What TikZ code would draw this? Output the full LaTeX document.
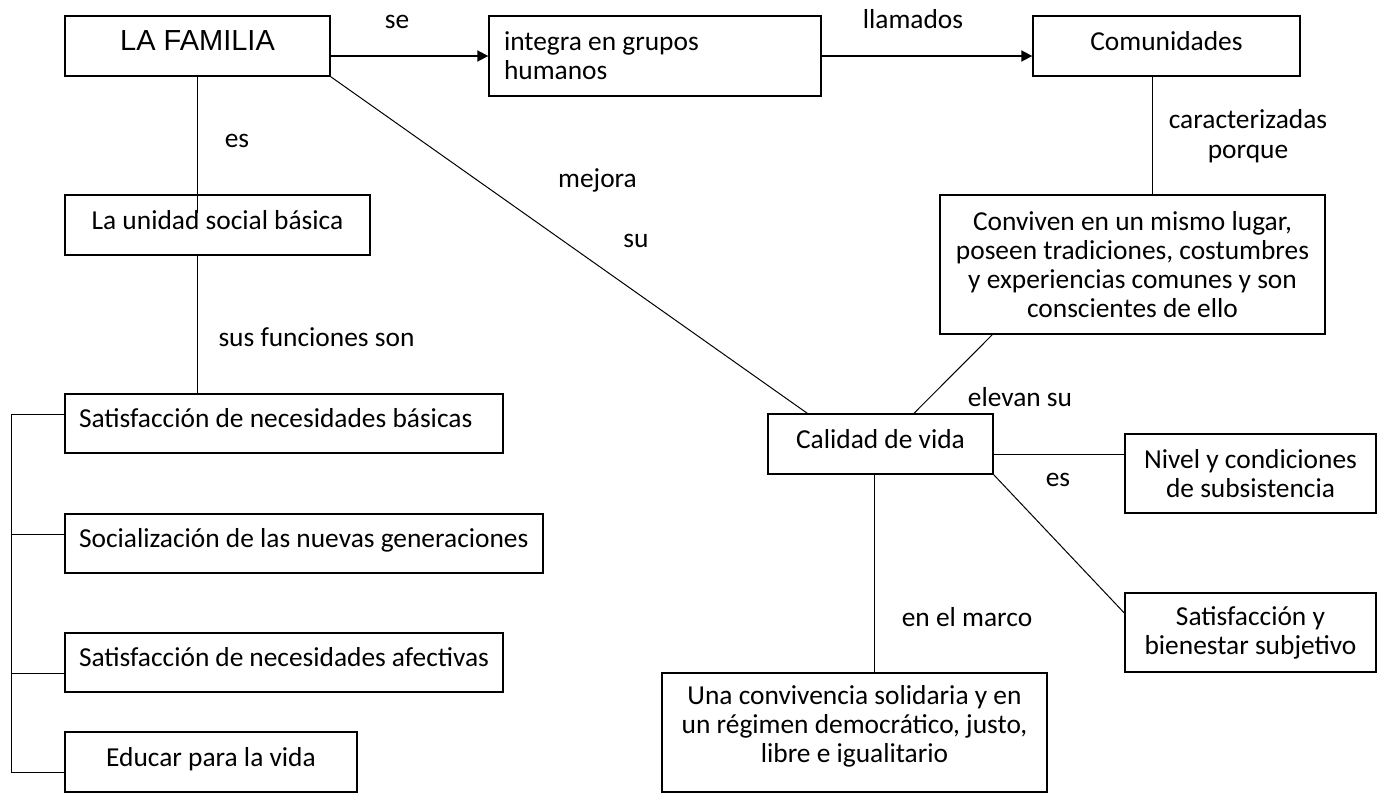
\documentclass[tikz,border=0pt]{standalone}
\usepackage{fontspec}
\setmainfont{Carlito}
\newfontfamily\titlefont{Liberation Sans}
\usetikzlibrary{arrows.meta}

\begin{document}
\begin{tikzpicture}[
    x=0.5pt, y=-0.5pt,
    concept/.style={draw,line width=0.7pt,inner sep=0pt,align=center},
    oneline/.style={text height=9.5pt,text depth=5.5pt},
    word/.style={anchor=base,inner sep=0pt},
    link/.style={line width=0.5pt},
    arrow/.style={line width=0.9pt,-{Triangle[length=5.5pt,width=5.5pt]}},
    font=\fontsize{13.7}{14.5}\selectfont
    ]

    \useasboundingbox (0,0) rectangle (1378,793);

    % top row:
    \node (familia) at (197.5,46) [concept,oneline,minimum width=132.5pt,minimum height=30pt,
      font=\titlefont\fontsize{14.5}{16}\selectfont] {LA FAMILIA};
    \node (integra) at (655,56) [concept,minimum height=40pt,text width=151pt,
      inner xsep=7.5pt,align=flush left] {integra en grupos\\humanos};
    \node (comunidades) at (1166.5,46) [concept,oneline,minimum width=133.5pt,minimum height=30pt] {Comunidades};
    \node (conviven) at (1132.5,264.5) [concept,minimum width=192.5pt,minimum height=69.5pt]
      {Conviven en un mismo lugar,\\poseen tradiciones, costumbres\\y experiencias comunes y son\\conscientes de ello};

    % left column:
    \node (unidad) at (217.5,225) [concept,oneline,minimum width=152.5pt,minimum height=30pt] {La unidad social básica};
    \node (basicas) at (284,423.5) [concept,oneline,minimum height=29.5pt,text width=205pt,
      inner xsep=7pt,align=flush left] {Satisfacción de necesidades básicas};
    \node (socializacion) at (304,543.5) [concept,oneline,minimum height=29.5pt,text width=225pt,
      inner xsep=7pt,align=flush left] {Socialización de las nuevas generaciones};
    \node (afectivas) at (284,662.5) [concept,oneline,minimum height=29.5pt,text width=205pt,
      inner xsep=7pt,align=flush left] {Satisfacción de necesidades afectivas};
    \node (educar) at (211,762) [concept,oneline,minimum width=146pt,minimum height=30pt] {Educar para la vida};

    % right part:
    \node (calidad) at (880.5,444) [concept,oneline,minimum width=112.5pt,minimum height=30pt] {Calidad de vida};
    \node (nivel) at (1250.5,473.5) [concept,minimum width=125.5pt,minimum height=39.5pt]
      {Nivel y condiciones\\de subsistencia};
    \node (bienestar) at (1250.5,632.5) [concept,minimum width=125.5pt,minimum height=39.5pt]
      {Satisfacción y\\bienestar subjetivo};
    \node (una) at (854.5,732.5) [concept,minimum width=192.5pt,minimum height=59.5pt]
      {Una convivencia solidaria y en\\un régimen democrático, justo,\\libre e igualitario\\[-5.5pt]};

    % link words:
    \node (lse) at (397,28) [word] {se};
    \node (lllamados) at (913,28) [word] {llamados};
    \node (les) at (237,147) [word] {es};
    \node (lsus) at (316.5,346) [word] {sus funciones son};
    \node (lmejora) at (597.5,187) [word] {mejora};
    \node (lsu) at (636,247) [word] {su};
    \node (lcaract) at (1248,128) [word] {caracterizadas};
    \node (lporque) at (1248,158) [word] {porque};
    \node (lelevan) at (1020,406) [word] {elevan su};
    \node (les2) at (1058,486) [word] {es};
    \node (lmarco) at (967,626) [word] {en el marco};

    \draw [arrow] (familia.east |- integra.west) -- (integra.west);
    \draw [arrow] (integra.east) -- (integra.east -| comunidades.west);

    \draw [link] (familia.south) -- ([yshift=6pt]familia.south |- unidad.center);
    \draw [link] (unidad.south -| familia.south) -- (basicas.north -| familia.south);
    \draw [link] (familia.south east) -- ([xshift=20pt]calidad.north west);

    \draw [link] ([xshift=-7.25pt]comunidades.south) -- ([xshift=-7.25pt]comunidades.south |- conviven.north);
    \draw [link] ([xshift=26.5pt]conviven.south west) -- ([xshift=16.75pt]calidad.north);

    \draw [link] ([yshift=-5pt]calidad.east) -- ([yshift=-5pt]calidad.east -| nivel.west);
    \draw [link] (calidad.south east) -- ([yshift=9.75pt]bienestar.west);
    \draw [link] ([xshift=-3.25pt]calidad.south) -- ([xshift=-3.25pt]calidad.south |- una.north);

    % left bracket:
    \foreach \n/\dy in {basicas/4.75,socializacion/4.75,afectivas/-5.25,educar/-5}
      \draw [link] ([yshift=\dy pt]\n.west) -- ++(-53,0) coordinate (t\n);
    \draw [link] (tbasicas) -- (teducar);

\end{tikzpicture}
\end{document}
